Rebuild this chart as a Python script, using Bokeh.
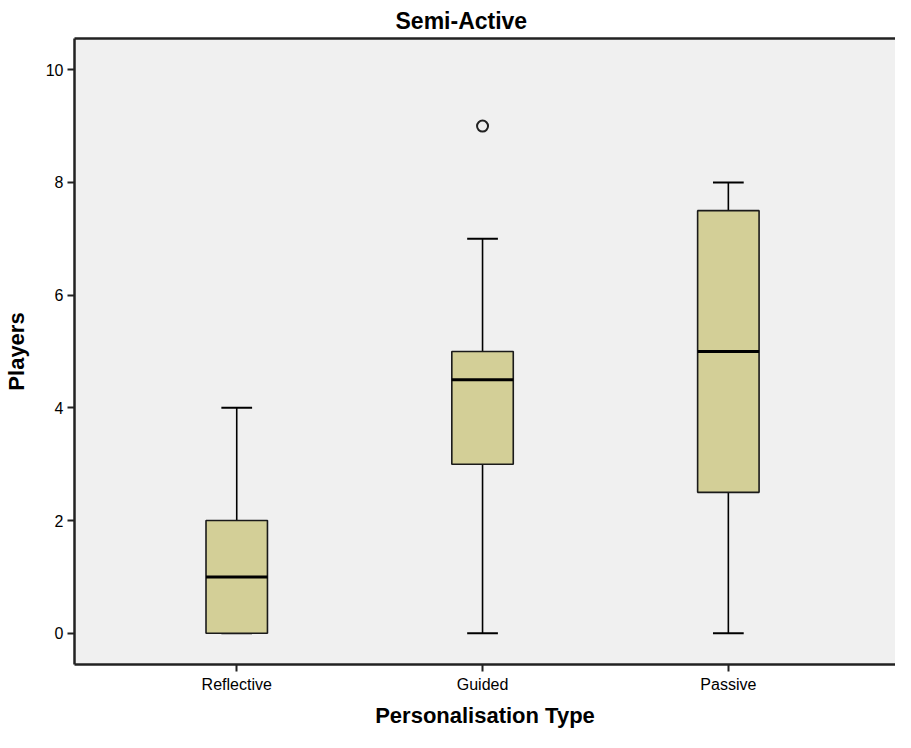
from bokeh.plotting import figure
from bokeh.models import Range1d, FixedTicker, LinearAxis, Title
from bokeh.embed import file_html
from bokeh.resources import INLINE

categories = ["Reflective", "Guided", "Passive"]
lower = [0, 0, 0]
q1 = [0, 3, 2.5]
median = [1, 4.5, 5]
q3 = [2, 5, 7.5]
upper = [4, 7, 8]
outlier_cat = ["Guided"]
outlier_val = [9]
y_ticks = [0, 2, 4, 6, 8, 10]

xs = list(range(len(categories)))
box_w = 0.25
cap_w = 0.125

p = figure(width=895, height=732, output_backend="svg", toolbar_location=None,
           x_range=Range1d(-0.66, 2.68), y_range=Range1d(-0.555, 10.555),
           min_border_left=65, min_border_right=0, min_border_top=0, min_border_bottom=0,
           background_fill_color="#F0F0F0", border_fill_color="white",
           outline_line_color=None)
p.title = None
bottom_axis = p.below[0]
left_axis = p.left[0]

top_axis = LinearAxis(axis_line_color="#222222", axis_line_width=2.5,
                      major_tick_line_color=None, minor_tick_line_color=None,
                      major_label_text_font_size="0px")
top_axis.ticker = FixedTicker(ticks=[])
p.add_layout(top_axis, "above")
p.add_layout(Title(text="Semi-Active", align="left", offset=321, standoff=10,
                   text_font="Liberation Sans", text_font_size="23px",
                   text_font_style="bold", text_color="black"), "above")
p.add_layout(Title(text="Personalisation Type", align="center", standoff=10,
                   vertical_align="bottom",
                   text_font="Liberation Sans", text_font_size="22px",
                   text_font_style="bold", text_color="black"), "below")

p.xgrid.visible = False
p.ygrid.visible = False

# whiskers
p.segment(x0=xs, y0=q3, x1=xs, y1=upper, line_color="black", line_width=1.6)
p.segment(x0=xs, y0=lower, x1=xs, y1=q1, line_color="black", line_width=1.6)
p.segment(x0=[x - cap_w / 2 for x in xs], y0=upper, x1=[x + cap_w / 2 for x in xs], y1=upper,
          line_color="black", line_width=2)
p.segment(x0=[x - cap_w / 2 for x in xs], y0=lower, x1=[x + cap_w / 2 for x in xs], y1=lower,
          line_color="black", line_width=2)
# boxes
p.vbar(x=xs, width=box_w, bottom=q1, top=q3, fill_color="#D3CF97",
       line_color="#1a1a1a", line_width=1.6)
# medians
p.segment(x0=[x - box_w / 2 for x in xs], y0=median, x1=[x + box_w / 2 for x in xs], y1=median,
          line_color="black", line_width=3)
# outliers
p.scatter(x=[categories.index(c) for c in outlier_cat], y=outlier_val, size=11,
          marker="circle", fill_color=None, line_color="#222222", line_width=2)

for ax in (bottom_axis, left_axis):
    ax.axis_line_color = "#222222"
    ax.axis_line_width = 2.5
    ax.major_tick_line_color = "#222222"
    ax.major_tick_line_width = 2
    ax.major_tick_out = 7
    ax.major_tick_in = 0
    ax.minor_tick_line_color = None
    ax.major_label_text_font = "Liberation Sans"
    ax.major_label_text_font_size = "16px"
    ax.major_label_text_color = "black"
    ax.major_label_standoff = 4
    ax.axis_label_text_font = "Liberation Sans"
    ax.axis_label_text_font_size = "22px"
    ax.axis_label_text_font_style = "bold"
    ax.axis_label_text_color = "black"

bottom_axis.ticker = FixedTicker(ticks=xs)
bottom_axis.major_label_overrides = {x: c for x, c in zip(xs, categories)}
left_axis.ticker = FixedTicker(ticks=y_ticks)
left_axis.axis_label = "Players"
left_axis.axis_label_standoff = 14

open("out.html", "w").write(file_html(p, INLINE))
